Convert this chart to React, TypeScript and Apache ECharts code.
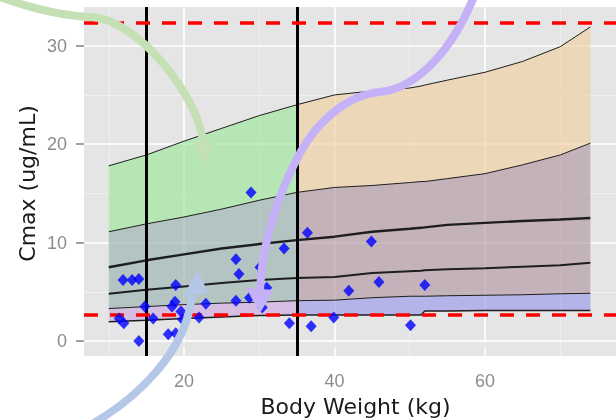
import React, { useEffect, useRef } from "react";
import * as echarts from "echarts";

// ---- band boundaries (Cmax quantiles vs body weight) ----
const xLeft = [10, 15, 20, 25, 30, 35];
const q1Left = [17.8, 18.9, 20.3, 21.6, 22.9, 24.0];
const q2Left = [11.1, 11.9, 12.6, 13.4, 14.3, 15.1];
const q3Left = [7.5, 8.2, 8.8, 9.4, 9.85, 10.25];
const q4Left = [4.8, 5.2, 5.55, 5.9, 6.2, 6.4];
const q5Left = [3.3, 3.5, 3.7, 3.85, 3.95, 4.1];
const q6Left = [1.95, 2.1, 2.3, 2.45, 2.6, 2.65];

const xRight = [35, 40, 45, 50, 51.5, 52, 55, 60, 65, 70, 74];
const q1Right = [24.0, 25.0, 25.4, 25.7, 25.9, 26.0, 26.5, 27.3, 28.4, 29.9, 31.9];
const q2Right = [15.1, 15.6, 15.8, 16.1, 16.2, 16.2, 16.5, 17.0, 17.9, 18.9, 20.1];
const q3Right = [10.25, 10.6, 11.1, 11.4, 11.5, 11.55, 11.8, 12.0, 12.2, 12.35, 12.5];
const q4Right = [6.4, 6.5, 6.9, 7.1, 7.15, 7.2, 7.3, 7.4, 7.55, 7.7, 7.95];
const q5Right = [4.1, 4.15, 4.4, 4.55, 4.55, 4.55, 4.6, 4.65, 4.7, 4.8, 4.85];
const q6Right = [2.65, 2.65, 2.65, 2.65, 2.65, 3.05, 3.05, 3.1, 3.1, 3.1, 3.1];

// ---- observed points ----
const weights = [
  11.9, 13.1, 14.0, 14.8, 11.4, 12.0, 14.0, 15.9, 17.9, 18.9, 18.9, 18.8,
  18.4, 19.6, 19.8, 22.0, 22.9, 26.9, 27.3, 26.9, 28.7, 28.9, 30.1, 30.4,
  31.0, 33.3, 34.0, 36.4, 36.9, 39.9, 41.9, 44.9, 45.9, 50.1, 52.0,
];
const cmax = [
  6.2, 6.2, 6.3, 3.5, 2.3, 1.8, 0.0, 2.3, 0.7, 0.8, 5.7, 4.0,
  3.5, 3.0, 2.2, 2.4, 3.8, 8.3, 6.8, 4.1, 4.4, 15.1, 7.5, 3.4,
  5.4, 9.4, 1.8, 11.0, 1.5, 2.4, 5.1, 10.1, 6.0, 1.6, 5.7,
];

// ---- axes / reference lines ----
const xTicks = [20, 40, 60];
const yTicks = [0, 10, 20, 30];
const xMinorGrid = [10, 30, 50, 70];
const yMinorGrid = [5, 15, 25];
const weightCuts = [15, 35];
const cmaxLimits = [32.3, 2.7];

const pairs = (xs: number[], ys: number[]) => xs.map((x, i) => [x, ys[i]]);

const LINE = "#1e1e1e";

function band(xs: number[], up: number[], lo: number[], color: string, extra: any = {}) {
  return {
    type: "custom",
    silent: true,
    z: 2,
    clip: true,
    data: [[xs[0], lo[0]]],
    renderItem: (_p: any, api: any) => {
      const top = xs.map((x, i) => api.coord([x, up[i]]));
      const bottom = xs.map((x, i) => api.coord([x, lo[i]])).reverse();
      return { type: "polygon", shape: { points: [...top, ...bottom] }, style: { fill: color } };
    },
    ...extra,
  };
}

function edge(xs: number[], ys: number[], width: number, extra: any = {}) {
  return {
    type: "line",
    symbol: "none",
    silent: true,
    z: 3,
    data: pairs(xs, ys),
    lineStyle: { color: LINE, width },
    ...extra,
  };
}

export default function App() {
  const ref = useRef<HTMLDivElement>(null);
  useEffect(() => {
    if (!ref.current) return;
    const chart = echarts.init(ref.current, undefined, { renderer: "svg" });
    const tickLabel = { color: "#8c8c8c", fontSize: 18, fontFamily: "Liberation Sans" };
    const gridMark = {
      silent: true,
      z: 1,
      symbol: ["none", "none"],
      label: { show: false },
      emphasis: { disabled: true },
      data: [
        ...xTicks.map((v) => ({ xAxis: v, lineStyle: { color: "#ffffff", width: 1.6, type: "solid" } })),
        ...yTicks.map((v) => ({ yAxis: v, lineStyle: { color: "#ffffff", width: 1.6, type: "solid" } })),
        ...xMinorGrid.map((v) => ({ xAxis: v, lineStyle: { color: "#f3f3f3", width: 0.8, type: "solid" } })),
        ...yMinorGrid.map((v) => ({ yAxis: v, lineStyle: { color: "#f3f3f3", width: 0.8, type: "solid" } })),
      ],
    };
    const refMark = {
      silent: true,
      z: 6,
      symbol: ["none", "none"],
      label: { show: false },
      emphasis: { disabled: true },
      data: [
        ...weightCuts.map((v) => ({ xAxis: v, lineStyle: { color: "#000000", width: 3, type: "solid" } })),
        ...cmaxLimits.map((v) => ({ yAxis: v, lineStyle: { color: "#ff0000", width: 3.5, type: [14, 12] } })),
      ],
    };
    const arrow = (segs: number[][], head: number[][], color: string) => [
      ...segs.map((s) => ({
        type: "bezierCurve",
        z: 100,
        silent: true,
        shape: { x1: s[0], y1: s[1], cpx1: s[2], cpy1: s[3], cpx2: s[4], cpy2: s[5], x2: s[6], y2: s[7] },
        style: { stroke: color, lineWidth: 8, fill: "none" },
      })),
      { type: "polygon", z: 100, silent: true, shape: { points: head }, style: { fill: color } },
    ];
    chart.setOption({
      animation: false,
      grid: { left: 84, right: 0, top: 7, bottom: 64, show: true, backgroundColor: "#e5e5e5", borderWidth: 0 },
      xAxis: {
        type: "value",
        min: 6.71,
        max: 77.41,
        splitLine: { show: false },
        axisLine: { show: false },
        axisTick: { show: true, length: 7, lineStyle: { color: "#7f7f7f", width: 1.5 }, customValues: xTicks },
        axisLabel: { ...tickLabel, margin: 16, customValues: xTicks },
      },
      yAxis: {
        type: "value",
        min: -1.52,
        max: 33.93,
        splitLine: { show: false },
        axisLine: { show: false },
        axisTick: { show: true, length: 8, lineStyle: { color: "#7f7f7f", width: 1.5 }, customValues: yTicks },
        axisLabel: { ...tickLabel, margin: 17, customValues: yTicks },
      },
      series: [
        band(xLeft, q5Left, q6Left, "rgba(206,169,224,0.65)", { markLine: gridMark }),
        band(xLeft, q2Left, q5Left, "rgba(154,178,177,0.65)"),
        band(xLeft, q1Left, q2Left, "rgba(157,230,154,0.65)"),
        band(xRight, q5Right, q6Right, "rgba(154,154,234,0.65)"),
        band(xRight, q2Right, q5Right, "rgba(178,150,163,0.65)"),
        band(xRight, q1Right, q2Right, "rgba(240,209,161,0.65)"),
        edge(xLeft, q1Left, 1),
        edge(xRight, q1Right, 1),
        edge(xLeft, q2Left, 1),
        edge(xRight, q2Right, 1),
        edge(xLeft, q3Left, 2.4),
        edge(xRight, q3Right, 2.4),
        edge(xLeft, q4Left, 2),
        edge(xRight, q4Right, 2),
        edge(xLeft, q5Left, 1),
        edge(xRight, q5Right, 1),
        edge(xLeft, q6Left, 1.5),
        edge(xRight, q6Right, 1.5, { markLine: refMark }),
        {
          type: "scatter",
          z: 10,
          silent: true,
          symbol: "diamond",
          symbolSize: [11, 12],
          itemStyle: { color: "#0000ff" },
          data: pairs(weights, cmax),
        },
      ],
      graphic: [
        ...arrow(
          [
            [0, -3, 30, 8, 60, 16, 92, 17],
            [92, 17, 140, 20, 200, 100, 203, 143],
          ],
          [[193, 141], [214, 143], [204, 166]],
          "#c5e0b4"
        ),
        ...arrow(
          [
            [475, -6, 455, 45, 420, 88, 380, 92],
            [380, 92, 345, 95, 315, 125, 300, 153],
            [300, 153, 280, 190, 262, 240, 260, 290],
          ],
          [[246, 288], [274, 290], [260, 313]],
          "#c4b1f7"
        ),
        ...arrow(
          [[85, 428, 140, 398, 186, 350, 192, 296]],
          [[183, 296], [208, 293], [198, 270]],
          "#b4c7e7"
        ),
        {
          type: "text",
          z: 50,
          x: 355.5,
          y: 406,
          style: { text: "Body Weight (kg)", fill: "#1a1a1a", font: '22px "DejaVu Sans"', textAlign: "center", textVerticalAlign: "middle" },
        },
        {
          type: "text",
          z: 50,
          x: 27,
          y: 183.5,
          rotation: Math.PI / 2,
          style: { text: "Cmax (ug/mL)", fill: "#1a1a1a", font: '22px "DejaVu Sans"', textAlign: "center", textVerticalAlign: "middle" },
        },
      ],
    });
    return () => chart.dispose();
  }, []);
  return <div ref={ref} style={{ position: "fixed", left: 0, top: 0, width: 616, height: 420 }} />;
}
